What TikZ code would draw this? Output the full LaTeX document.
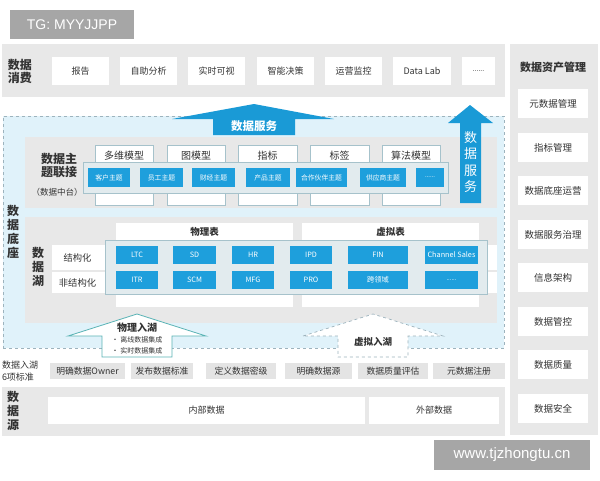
\documentclass[tikz,border=0pt]{standalone}
\usepackage{fontspec}
\setmainfont{Noto Sans CJK SC}
\newfontfamily\wmfont{Liberation Sans}
\definecolor{panelgray}{HTML}{E8E8E8}
\definecolor{stdgray}{HTML}{E4E4E4}
\definecolor{bluebox}{HTML}{1E9FDC}
\definecolor{bluearrow}{HTML}{1A9AD6}
\definecolor{lightbg}{HTML}{E0F2FA}
\definecolor{stripfill}{HTML}{E2EBEE}
\definecolor{stripline}{HTML}{A6C2CB}
\definecolor{dashline}{HTML}{9DB3BD}
\definecolor{txt}{HTML}{333333}
\definecolor{teal}{HTML}{5AB3B5}
\definecolor{wmgray}{HTML}{A6A6A6}
\newcommand\bx[7]{\node[#1, anchor=north west, minimum width={(#5-#3)*1pt}, minimum height={(#6-#4)*1pt}] (#2) at (#3,#4) {#7};}
\newcommand\dotsix{{\wmfont ......}}
\begin{document}
\begin{tikzpicture}[x=1pt,y=-1pt,
  every node/.style={inner sep=0pt, outer sep=0pt, text=txt},
  gpanel/.style={fill=panelgray, draw=none},
  wbox/.style={fill=white, draw=none, font=\fontsize{9}{10}\selectfont},
  rbox/.style={fill=white, draw=none, font=\fontsize{9.5}{10}\selectfont},
  bbox/.style={fill=bluebox, draw=none, text=white, font=\fontsize{6.8}{7}\selectfont},
  lbox/.style={fill=bluebox, draw=none, text=white, font=\fontsize{7.3}{8}\selectfont},
  mbox/.style={fill=white, draw=stripline, line width=0.6pt},
  strip/.style={fill=stripfill, draw=stripline, line width=0.7pt},
  sbox/.style={fill=stdgray, draw=none, font=\fontsize{8.8}{10}\selectfont},
  biglbl/.style={font=\fontsize{12}{14}\selectfont\bfseries, align=center},
  vlbl/.style={font=\fontsize{12}{14}\selectfont\bfseries, align=center},
  mlbl/.style={font=\fontsize{10}{11}\selectfont},
  hdr/.style={font=\fontsize{9.5}{10}\selectfont\bfseries},
  wm/.style={fill=wmgray, draw=none, text=white}
]
\useasboundingbox (0,0) rectangle (600,480);

% watermark top
\bx{wm, font=\wmfont\fontsize{14}{16}\selectfont}{tg}{10}{10}{134}{39}{TG: MYYJJPP}

% top consumption panel
\bx{gpanel}{consume}{2}{44}{505}{97}{}
\node[biglbl] (consumelbl) at (20,71) {数据\\[-1pt]消费};
\bx{wbox}{c1}{52}{57}{109}{85}{报告}
\bx{wbox}{c2}{120}{57}{177}{85}{自助分析}
\bx{wbox}{c3}{188}{57}{245}{85}{实时可视}
\bx{wbox}{c4}{257}{57}{314}{85}{智能决策}
\bx{wbox}{c5}{325}{57}{382}{85}{运营监控}
\bx{wbox, font=\fontsize{9}{10}\selectfont}{c6}{393}{57}{451}{85}{Data Lab}
\bx{wbox, font=\fontsize{7}{8}\selectfont}{c7}{462}{57}{495}{85}{\dotsix}

% right panel
\bx{gpanel}{asset}{510}{44}{598}{435}{}
\node[font=\fontsize{11}{12}\selectfont\bfseries] (assetlbl) at (553,67) {数据资产管理};
\bx{rbox}{r1}{518}{89}{588}{118}{元数据管理}
\bx{rbox}{r2}{518}{133}{588}{162}{指标管理}
\bx{rbox}{r3}{518}{176}{588}{205}{数据底座运营}
\bx{rbox}{r4}{518}{220}{588}{249}{数据服务治理}
\bx{rbox}{r5}{518}{263}{588}{292}{信息架构}
\bx{rbox}{r6}{518}{307}{588}{336}{数据管控}
\bx{rbox}{r7}{518}{350}{588}{379}{数据质量}
\bx{rbox}{r8}{518}{394}{588}{423}{数据安全}

% data foundation dashed area
\bx{fill=lightbg, draw=dashline, dashed, line width=0.6pt}{base}{3}{116}{504}{348}{}
\node[vlbl] (baselbl) at (13,232) {数\\据\\底\\座};

% subject link panel
\bx{gpanel}{subject}{25}{137}{497}{208}{}
\node[biglbl] (subjlbl) at (59,165) {数据主\\[-1pt]题联接};
\node[font=\fontsize{8.5}{10}\selectfont] (subjsub) at (57,192) {（数据中台）};
\bx{mbox}{m1}{95}{145}{153}{205}{}
\bx{mbox}{m2}{167}{145}{225}{205}{}
\bx{mbox}{m3}{238}{145}{297}{205}{}
\bx{mbox}{m4}{310}{145}{369}{205}{}
\bx{mbox}{m5}{382}{145}{440}{205}{}
\node[mlbl] at (124,155.5) {多维模型};
\node[mlbl] at (196,155.5) {图模型};
\node[mlbl] at (267.5,155.5) {指标};
\node[mlbl] at (339.5,155.5) {标签};
\node[mlbl] at (411,155.5) {算法模型};
\bx{strip}{tstrip}{83}{162}{448}{193}{}
\bx{bbox}{t1}{88}{168}{130}{187}{客户主题}
\bx{bbox}{t2}{140}{168}{183}{187}{员工主题}
\bx{bbox}{t3}{192}{168}{235}{187}{财经主题}
\bx{bbox}{t4}{246}{168}{290}{187}{产品主题}
\bx{bbox}{t5}{296}{168}{347}{187}{合作伙伴主题}
\bx{bbox}{t6}{360}{168}{406}{187}{供应商主题}
\bx{bbox, font=\fontsize{6}{7}\selectfont}{t7}{416}{168}{444}{187}{\dotsix}

% horizontal data service arrow
\fill[bluearrow] (172,119) -- (254,104) -- (334,119) -- (295,119) -- (295,135) -- (213,135) -- (213,119) -- cycle;
\node[text=white, font=\fontsize{11.5}{12}\selectfont\bfseries] (hsvc) at (254,126) {数据服务};

% vertical data service arrow
\fill[bluearrow] (470,105) -- (493,123) -- (481,123) -- (481,203) -- (460,203) -- (460,123) -- (448,123) -- cycle;
\node[text=white, font=\fontsize{13}{16.5}\selectfont, align=center] (vsvc) at (470.5,162) {数\\据\\服\\务};

% data lake panel
\bx{gpanel}{lake}{25}{217}{497}{323}{}
\node[vlbl] (lakelbl) at (38,267) {数\\据\\湖};
\bx{fill=white}{row1}{52}{245}{497}{270}{}
\bx{fill=white}{row2}{52}{272}{497}{293}{}
\node[font=\fontsize{9.3}{10}\selectfont] (structlbl) at (77.5,257.5) {结构化};
\node[font=\fontsize{9.3}{10}\selectfont] (unstructlbl) at (77.5,282.5) {非结构化};
\bx{fill=white}{phys}{116}{223}{293}{307}{}
\bx{fill=white}{virt}{302}{223}{479}{307}{}
\node[hdr] (physlbl) at (204.5,232) {物理表};
\node[hdr] (virtlbl) at (390.5,232) {虚拟表};
\bx{strip}{lstrip}{105}{240}{487}{294}{}
\bx{lbox}{l1}{116}{246}{158}{264}{LTC}
\bx{lbox}{l2}{173}{246}{216}{264}{SD}
\bx{lbox}{l3}{232}{246}{274}{264}{HR}
\bx{lbox}{l4}{290}{246}{332}{264}{IPD}
\bx{lbox}{l5}{348}{246}{408}{264}{FIN}
\bx{lbox}{l6}{425}{246}{478}{264}{Channel Sales}
\bx{lbox}{u1}{116}{271}{158}{289}{ITR}
\bx{lbox}{u2}{173}{271}{216}{289}{SCM}
\bx{lbox}{u3}{232}{271}{274}{289}{MFG}
\bx{lbox}{u4}{290}{271}{332}{289}{PRO}
\bx{lbox}{u5}{348}{271}{408}{289}{跨领域}
\bx{lbox, font=\fontsize{6}{7}\selectfont}{u6}{425}{271}{478}{289}{\dotsix}

% physical ingestion arrow
\filldraw[fill=white, draw=teal, line width=0.8pt] (68,336) -- (137,314) -- (206,336) -- (172,336) -- (172,357) -- (102,357) -- (102,336) -- cycle;
\node[font=\fontsize{10}{11}\selectfont\bfseries] (physin) at (137,327.5) {物理入湖};
\node[font=\fontsize{7}{8}\selectfont] (physb1) at (137,340) {• 离线数据集成};
\node[font=\fontsize{7}{8}\selectfont] (physb2) at (137,351) {• 实时数据集成};

% virtual ingestion arrow
\filldraw[fill=white, draw=dashline, dashed, line width=0.7pt] (303,336) -- (373,314) -- (443,336) -- (408,336) -- (408,357) -- (338,357) -- (338,336) -- cycle;
\node[font=\fontsize{9.5}{10}\selectfont\bfseries] (virtin) at (373,342) {虚拟入湖};

% six standards row
\node[font=\fontsize{9}{12}\selectfont, align=left, anchor=west] (stdlbl) at (2,371.5) {数据入湖\\6项标准};
\bx{sbox}{s1}{50}{363}{125}{379}{明确数据Owner}
\bx{sbox}{s2}{131}{363}{193}{379}{发布数据标准}
\bx{sbox}{s3}{206}{363}{276}{379}{定义数据密级}
\bx{sbox}{s4}{285}{363}{352}{379}{明确数据源}
\bx{sbox}{s5}{358}{363}{428}{379}{数据质量评估}
\bx{sbox}{s6}{433}{363}{505}{379}{元数据注册}

% data source panel
\bx{gpanel}{source}{2}{387}{505}{436}{}
\node[vlbl] (srclbl) at (13,411) {数\\据\\源};
\bx{wbox}{src1}{48}{397}{365}{424}{内部数据}
\bx{wbox}{src2}{369}{397}{499}{424}{外部数据}

% watermark bottom
\bx{wm, font=\wmfont\fontsize{15}{17}\selectfont}{wmb}{434}{440}{590}{470}{www.tjzhongtu.cn}
\end{tikzpicture}
\end{document}
